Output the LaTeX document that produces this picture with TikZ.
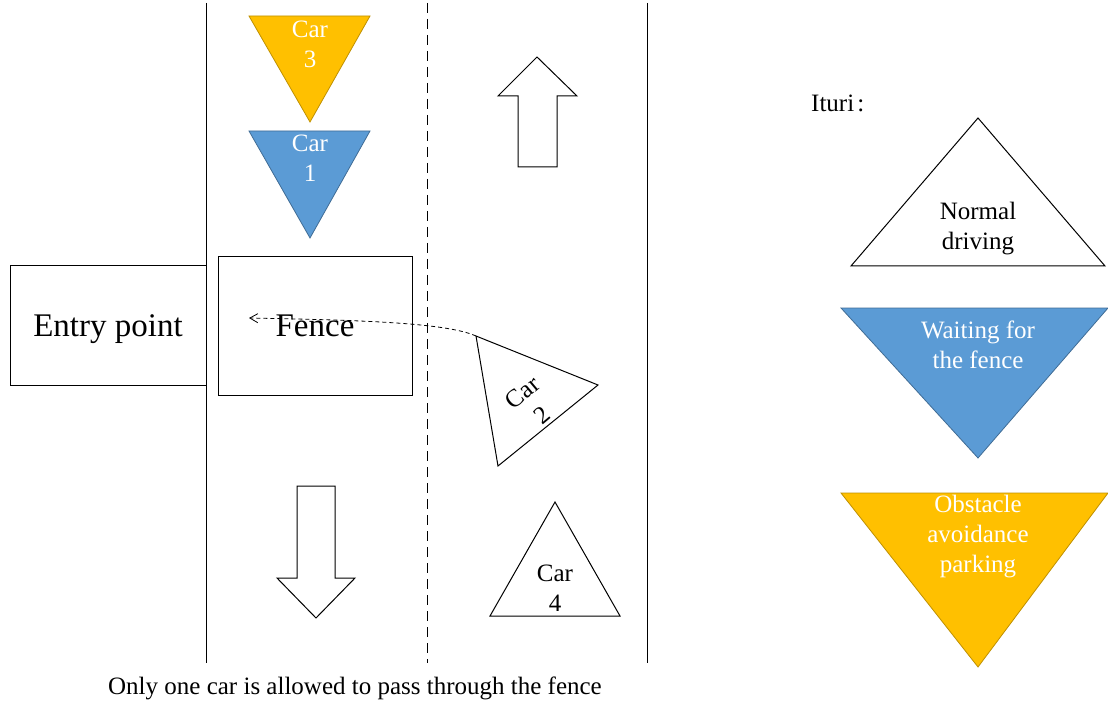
\documentclass[tikz,border=0pt]{standalone}
\usepackage{fontspec}
\setmainfont{Liberation Serif}
\usetikzlibrary{arrows.meta}
\definecolor{carblue}{HTML}{5B9BD5}
\definecolor{carorange}{HTML}{FFC000}
\tikzset{
  lane/.style={line width=1pt, draw=black},
  midlane/.style={line width=1pt, draw=black, dash pattern=on 10pt off 6pt},
  zonebox/.style={draw=black, line width=1pt, inner sep=0pt, text depth=0pt, font=\fontsize{33}{36}\selectfont},
  waitcar/.style={fill=carblue, draw=carblue!70!black, line width=0.8pt},
  parkcar/.style={fill=carorange, draw=carorange!75!black, line width=0.8pt},
  normalcar/.style={fill=white, draw=black, line width=1pt},
  bigarrow/.style={draw=black, line width=1pt, fill=white},
  cartext/.style={font=\fontsize{25}{30}\selectfont, align=center, inner sep=0pt},
  passpath/.style={dash pattern=on 4pt off 3pt, line width=0.8pt, -{Straight Barb[length=8pt, width=9pt]}}
}

\begin{document}
\begin{tikzpicture}[x=1pt, y=-1pt]
  \useasboundingbox (0,0) rectangle (1108,703);

  % lanes
  \draw[lane] (206,3) -- (206,663);
  \draw[midlane] (427,3) -- (427,663);
  \draw[lane] (647,3) -- (647,663);

  \node[zonebox, minimum width=196pt, minimum height=119pt] (entry) at (108,325.5) {Entry point};
  \node[zonebox, minimum width=194pt, minimum height=138pt] (fence) at (315,326) {Fence};

  % cars
  \draw[parkcar] (249,16) -- (370,16) -- (310,122) -- cycle;
  \node[cartext, text=white] (car3) at (310,44) {Car\\3};
  \draw[waitcar] (249,131) -- (370,131) -- (310,238) -- cycle;
  \node[cartext, text=white] (car1) at (310,158) {Car\\1};

  \coordinate (c2top) at (476,336);
  \coordinate (c2tip) at (598,385);
  \coordinate (c2low) at (498,466);
  \draw[normalcar] (c2top) -- (c2tip) -- (c2low) -- cycle;
  \node[cartext, rotate=40] (car2) at (532,404) {Car\\2};

  \draw[normalcar] (555,502) -- (620,616) -- (490,616) -- cycle;
  \node[cartext] (car4) at (555,588) {Car\\4};

  \coordinate (passend) at (249,318);
  \draw[passpath] (c2top) .. controls (445,322) and (350,320) .. (passend);

  % driving directions
  \draw[bigarrow] (537,57) -- (577,96) -- (557,96) -- (557,167) -- (518,167) -- (518,96) -- (498,96) -- cycle;
  \draw[bigarrow] (316,618) -- (355,578) -- (335,578) -- (335,486) -- (297,486) -- (297,578) -- (277,578) -- cycle;

  \node[cartext] (caption) at (355,688) {Only one car is allowed to pass through the fence};

  % legend
  \node[cartext, anchor=west] (ituri) at (811,103) {Ituri\kern3pt:};
  \draw[normalcar] (978,118) -- (1105,266) -- (851,266) -- cycle;
  \node[cartext] (normal) at (978,229) {Normal\\driving};
  \draw[waitcar] (841,308) -- (1108,308) -- (978,458) -- cycle;
  \node[cartext, text=white] (waiting) at (978,345) {Waiting for\\the fence};
  \draw[parkcar] (841,493) -- (1108,493) -- (978,667) -- cycle;
  \node[cartext, text=white] (obstacle) at (978,537) {Obstacle\\avoidance\\parking};
\end{tikzpicture}
\end{document}
